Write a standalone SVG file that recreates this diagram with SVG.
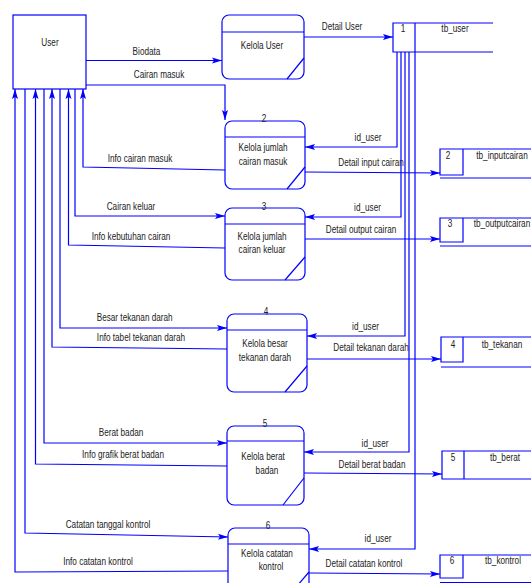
<svg xmlns="http://www.w3.org/2000/svg" width="531" height="583" viewBox="0 0 531 583">
<style>
.s{fill:none;stroke:#0000ff;stroke-width:1.2}
.t{font-family:"Liberation Sans",Arial,sans-serif;font-size:10.5px;fill:#222;text-anchor:middle}
.c{fill:none;stroke:#0000ff;stroke-width:1.2;marker-end:url(#a)}
</style>
<defs>
<marker id="a" markerUnits="userSpaceOnUse" markerWidth="11" markerHeight="8" refX="10" refY="4" orient="auto">
<path d="M0,1 L10,4 L0,7 L2,4 z" fill="#0000ff"/>
</marker>
</defs>
<rect width="531" height="583" fill="#fff"/>

<g id="user">
<rect class="s" x="13" y="15" width="73" height="74"/>
<text class="t" transform="translate(50,46) scale(.78,1)">User</text>
</g>

<g id="p1">
<rect class="s" x="222" y="15" width="82" height="64" rx="7"/>
<line class="s" x1="222" y1="32" x2="304" y2="32"/>
<line class="s" x1="287" y1="79" x2="304" y2="58"/>
<text class="t" transform="translate(262,49) scale(.78,1)">Kelola User</text>
</g>

<g id="p2">
<rect class="s" x="225" y="121" width="80" height="68" rx="7"/>
<line class="s" x1="225" y1="137" x2="305" y2="137"/>
<line class="s" x1="287" y1="189" x2="305" y2="167"/>
<text class="t" transform="translate(264,122) scale(.78,1)">2</text>
<text class="t" transform="translate(263,151) scale(.78,1)">Kelola jumlah</text>
<text class="t" transform="translate(263,165) scale(.78,1)">cairan masuk</text>
</g>

<g id="p3">
<rect class="s" x="225" y="208" width="80" height="72" rx="7"/>
<line class="s" x1="225" y1="224" x2="305" y2="224"/>
<line class="s" x1="285" y1="280" x2="305" y2="257"/>
<text class="t" transform="translate(264,210) scale(.78,1)">3</text>
<text class="t" transform="translate(262,240) scale(.78,1)">Kelola jumlah</text>
<text class="t" transform="translate(262,253) scale(.78,1)">cairan keluar</text>
</g>

<g id="p4">
<rect class="s" x="227" y="314" width="80" height="78" rx="7"/>
<line class="s" x1="227" y1="330" x2="307" y2="330"/>
<line class="s" x1="285" y1="392" x2="307" y2="366"/>
<text class="t" transform="translate(266,315) scale(.78,1)">4</text>
<text class="t" transform="translate(265,347) scale(.78,1)">Kelola besar</text>
<text class="t" transform="translate(265,361) scale(.78,1)">tekanan darah</text>
</g>

<g id="p5">
<rect class="s" x="227" y="426" width="77" height="79" rx="7"/>
<line class="s" x1="227" y1="441" x2="304" y2="441"/>
<line class="s" x1="283" y1="505" x2="304" y2="478"/>
<text class="t" transform="translate(265,427) scale(.78,1)">5</text>
<text class="t" transform="translate(263,460) scale(.78,1)">Kelola berat</text>
<text class="t" transform="translate(267,474) scale(.78,1)">badan</text>
</g>

<g id="p6">
<rect class="s" x="228" y="528" width="81" height="72" rx="7"/>
<line class="s" x1="228" y1="544" x2="309" y2="544"/>
<line class="s" x1="309" y1="572" x2="285" y2="600"/>
<text class="t" transform="translate(268,529) scale(.78,1)">6</text>
<text class="t" transform="translate(267,557) scale(.78,1)">Kelola catatan</text>
<text class="t" transform="translate(271,570) scale(.78,1)">kontrol</text>
</g>

<g id="s1">
<path class="s" d="M493,23 H393 V52 H493 M415,23 V52"/>
<text class="t" transform="translate(403,32) scale(.78,1)">1</text>
<text class="t" transform="translate(455,32) scale(.78,1)">tb_user</text>
</g>

<g id="s2">
<path class="s" d="M531,149 H440 V175 H463 V149 M440,178 H531"/>
<text class="t" transform="translate(448,159) scale(.78,1)">2</text>
<text class="t" transform="translate(502,159) scale(.78,1)">tb_inputcairan</text>
</g>

<g id="s3">
<path class="s" d="M531,218 H440 V242 H463 V218 M440,246 H531"/>
<text class="t" transform="translate(450,227) scale(.78,1)">3</text>
<text class="t" transform="translate(502,227) scale(.78,1)">tb_outputcairan</text>
</g>

<g id="s4">
<path class="s" d="M531,337 H441 V362 H463 V337 M441,367 H531"/>
<text class="t" transform="translate(453,348) scale(.78,1)">4</text>
<text class="t" transform="translate(502,348) scale(.78,1)">tb_tekanan</text>
</g>

<g id="s5">
<path class="s" d="M531,451 H442 V479 H531 M464,451 V479"/>
<text class="t" transform="translate(453,461) scale(.78,1)">5</text>
<text class="t" transform="translate(505,461) scale(.78,1)">tb_berat</text>
</g>

<g id="s6">
<path class="s" d="M531,555 H440 V578 H463 V555 M440,582.5 H531"/>
<text class="t" transform="translate(452,564) scale(.78,1)">6</text>
<text class="t" transform="translate(503,564) scale(.78,1)">tb_kontrol</text>
</g>

<g id="connectors">
<path class="c" d="M86,60.5 H222"/>
<path class="c" d="M86,85 H225 V120"/>
<path class="c" d="M304,37 H393"/>
<path class="c" d="M225,170 L83,167 V89"/>
<path class="c" d="M75,89 V216 H225"/>
<path class="c" d="M225,248 L68.5,245 V89"/>
<path class="c" d="M60,89 V328 H227"/>
<path class="c" d="M227,349 L52,347 V89"/>
<path class="c" d="M44,89 V443 H227"/>
<path class="c" d="M227,466 L35.5,464 V89"/>
<path class="c" d="M25,89 V533 L228,537"/>
<path class="c" d="M228,571 L15,572 V89"/>
<path class="c" d="M397,52 V147 H305"/>
<path class="c" d="M401,52 V217 H305"/>
<path class="c" d="M405,52 V336 H307"/>
<path class="c" d="M409,52 V452 H304"/>
<path class="c" d="M415,52 V549 H309"/>
<path class="c" d="M305,172 L440,173"/>
<path class="c" d="M305,239 H440"/>
<path class="c" d="M307,359 H441"/>
<path class="c" d="M304,473 L442,474"/>
<path class="c" d="M309,573 L440,574"/>
</g>

<g id="labels">
<text class="t" transform="translate(146.5,54.5) scale(.78,1)">Biodata</text>
<text class="t" transform="translate(159,78) scale(.78,1)">Cairan masuk</text>
<text class="t" transform="translate(342,30) scale(.78,1)">Detail User</text>
<text class="t" transform="translate(368,141) scale(.78,1)">id_user</text>
<text class="t" transform="translate(140,162) scale(.78,1)">Info cairan masuk</text>
<text class="t" transform="translate(371,166) scale(.78,1)">Detail input cairan</text>
<text class="t" transform="translate(131,210) scale(.78,1)">Cairan keluar</text>
<text class="t" transform="translate(367.5,211) scale(.78,1)">id_user</text>
<text class="t" transform="translate(131,240) scale(.78,1)">Info kebutuhan cairan</text>
<text class="t" transform="translate(361,233) scale(.78,1)">Detail output cairan</text>
<text class="t" transform="translate(134.7,321) scale(.78,1)">Besar tekanan darah</text>
<text class="t" transform="translate(141,341) scale(.78,1)">Info tabel tekanan darah</text>
<text class="t" transform="translate(365.5,330) scale(.78,1)">id_user</text>
<text class="t" transform="translate(371,351) scale(.78,1)">Detail tekanan darah</text>
<text class="t" transform="translate(121,436) scale(.78,1)">Berat badan</text>
<text class="t" transform="translate(123,458) scale(.78,1)">Info grafik berat badan</text>
<text class="t" transform="translate(375,447) scale(.78,1)">id_user</text>
<text class="t" transform="translate(372,468) scale(.78,1)">Detail berat badan</text>
<text class="t" transform="translate(108,528) scale(.78,1)">Catatan tanggal kontrol</text>
<text class="t" transform="translate(98,565) scale(.78,1)">Info catatan kontrol</text>
<text class="t" transform="translate(378,542) scale(.78,1)">id_user</text>
<text class="t" transform="translate(364,567) scale(.78,1)">Detail catatan kontrol</text>
</g>
</svg>
